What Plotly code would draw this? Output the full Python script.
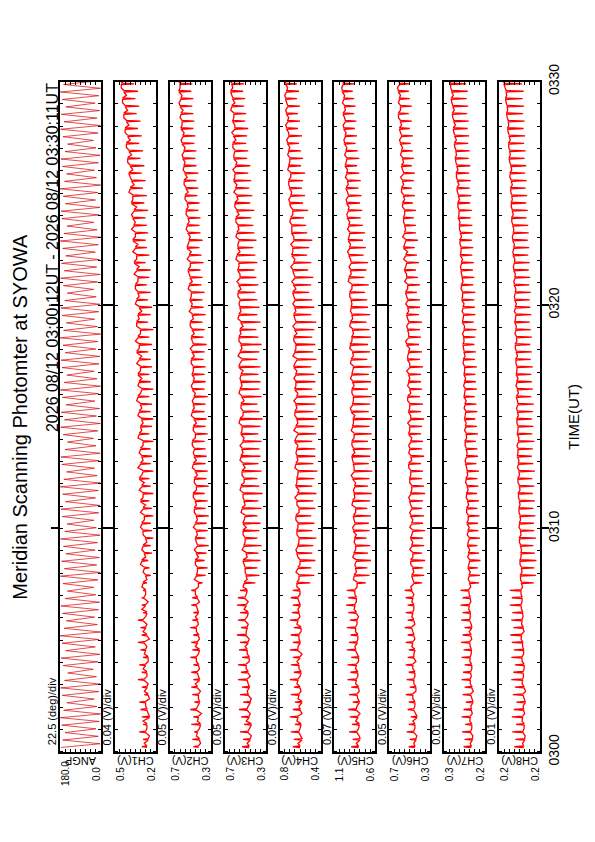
import plotly.graph_objects as go
import pandas as pd

# ---------------- data ----------------
panel_names = ["ANGP", "CH1(V)", "CH2(V)", "CH3(V)", "CH4(V)", "CH5(V)", "CH6(V)", "CH7(V)", "CH8(V)"]
div_labels = ["22.5 (deg)/div", "0.04 (V)/div", "0.05 (V)/div", "0.05 (V)/div", "0.05 (V)/div",
              "0.07 (V)/div", "0.05 (V)/div", "0.01 (V)/div", "0.01 (V)/div"]
vmin = [0.0, 0.20, 0.30, 0.30, 0.40, 0.57, 0.30, 0.21, 0.16]
vdiv = [22.5, 0.04, 0.05, 0.05, 0.05, 0.07, 0.05, 0.01, 0.01]
top_labels = ["180.0", "0.5", "0.7", "0.7", "0.8", "1.1", "0.7", "0.3", "0.2"]
bottom_labels = ["0.0", "0.2", "0.3", "0.3", "0.4", "0.6", "0.3", "0.2", "0.2"]
time_ticks = ["2026-08-12 03:00:00", "2026-08-12 03:10:00", "2026-08-12 03:20:00", "2026-08-12 03:30:00"]
time_tick_labels = ["0300", "0310", "0320", "0330"]
start_label = "2026 08/12 03:00:12UT"
end_label = "2026 08/12 03:30:11UT"

angp = [176,4,168,12,158,22,172,8,178,2,164,18,150,30,170,10,177,3,160,20,
        146,34,166,14,175,5,155,25,171,9,179,1,162,16,152,28,169,11,176,6,
        157,23,148,32,167,13,178,3,161,19,173,7,154,26,165,15,177,4,159,21,
        149,31,170,10,175,5,156,24,168,12,179,2,163,17,151,29,172,8,176,4,
        158,22,147,33,166,14,177,3,160,20,174,6,153,27,169,11,178,2,162,18,
        150,30,171,9,175,5,157,23,167,13,179,1,164,16,152,28,170,10,176,4,
        159,21,148,32,165,15,177,3,161,19,173,7,155,25,168,12,178,2,163,17,
        149,31,172,8,175,5,156,24,166,14,179,1,160,20,151,29,169,11,176,4,
        158,22,147,33,167,13,177,3,162,18,174,6,154,26,170,10,178,2,164,16]

ch1_base = [0.27,0.26,0.28,0.27,0.25,0.27,0.28,0.26,0.27,0.29,
            0.27,0.28,0.26,0.28,0.29,0.27,0.28,0.30,0.27,0.28,
            0.29,0.28,0.30,0.28,0.29,0.31,0.29,0.30,0.28,0.30,
            0.31,0.29,0.30,0.32,0.30,0.31,0.33,0.30,0.32,0.31,
            0.32,0.30,0.33,0.32,0.31,0.33,0.32,0.34,0.31,0.33,
            0.34,0.32,0.33,0.35,0.33,0.34,0.32,0.35,0.34,0.33,
            0.35,0.34,0.36,0.34,0.35,0.37,0.35,0.36,0.38,0.36,
            0.37,0.38,0.37,0.39,0.38,0.40,0.39,0.41,0.40,0.42,
            0.41,0.43,0.42,0.44,0.43,0.45,0.44,0.46,0.45,0.47]
ch1_mid = [0.29,0.25,0.27,0.30,0.26,0.28,0.25,0.29,0.26,0.27,
           0.30,0.26,0.29,0.27,0.25,0.30,0.27,0.28,0.31,0.26,
           0.28,0.31,0.27,0.30,0.32,0.28,0.31,0.27,0.30,0.32,
           0.29,0.32,0.28,0.30,0.33,0.29,0.31,0.34,0.30,0.33,
           0.30,0.34,0.31,0.30,0.34,0.31,0.35,0.32,0.34,0.31,
           0.32,0.35,0.31,0.33,0.36,0.32,0.35,0.33,0.31,0.36,
           0.33,0.36,0.34,0.37,0.33,0.35,0.38,0.34,0.36,0.39,
           0.36,0.39,0.35,0.38,0.41,0.37,0.40,0.38,0.42,0.39,
           0.43,0.40,0.44,0.41,0.45,0.42,0.46,0.43,0.47,0.45]
ch1_spike = [0.31,0.30,0.33,0.30,0.31,0.32,0.33,0.29,0.31,0.34,
             0.31,0.33,0.30,0.32,0.34,0.31,0.32,0.34,0.30,0.31,
             0.31,0.30,0.27,0.24,0.25,0.26,0.23,0.24,0.22,0.23,
             0.24,0.22,0.23,0.25,0.22,0.24,0.25,0.22,0.24,0.23,
             0.24,0.22,0.25,0.23,0.22,0.24,0.23,0.25,0.22,0.24,
             0.25,0.23,0.24,0.26,0.23,0.25,0.22,0.26,0.24,0.23,
             0.26,0.24,0.27,0.25,0.24,0.28,0.25,0.27,0.28,0.26,
             0.27,0.28,0.26,0.29,0.27,0.30,0.28,0.31,0.29,0.32,
             0.30,0.33,0.31,0.34,0.32,0.35,0.33,0.36,0.34,0.37]

ch2_base = [0.42,0.41,0.43,0.40,0.42,0.44,0.41,0.42,0.43,0.41,
            0.43,0.42,0.44,0.41,0.43,0.42,0.44,0.43,0.42,0.44,
            0.43,0.45,0.42,0.44,0.43,0.45,0.44,0.43,0.45,0.44,
            0.45,0.44,0.46,0.45,0.47,0.44,0.46,0.45,0.47,0.46,
            0.46,0.48,0.45,0.47,0.46,0.48,0.47,0.46,0.48,0.47,
            0.48,0.47,0.49,0.48,0.47,0.49,0.48,0.50,0.48,0.49,
            0.50,0.49,0.51,0.50,0.52,0.50,0.51,0.53,0.51,0.52,
            0.53,0.52,0.54,0.53,0.55,0.54,0.56,0.55,0.56,0.57,
            0.56,0.58,0.57,0.59,0.58,0.59,0.60,0.59,0.61,0.60]
ch2_mid = [0.40,0.44,0.41,0.43,0.39,0.43,0.42,0.40,0.45,0.42,
           0.41,0.44,0.42,0.45,0.41,0.44,0.42,0.45,0.43,0.41,
           0.45,0.42,0.46,0.43,0.45,0.42,0.46,0.44,0.43,0.47,
           0.43,0.46,0.44,0.47,0.44,0.46,0.43,0.48,0.44,0.47,
           0.48,0.45,0.47,0.44,0.49,0.46,0.48,0.45,0.49,0.46,
           0.47,0.49,0.46,0.50,0.48,0.46,0.50,0.47,0.51,0.48,
           0.49,0.52,0.48,0.51,0.50,0.53,0.49,0.52,0.50,0.54,
           0.51,0.54,0.52,0.55,0.52,0.56,0.53,0.57,0.55,0.58,
           0.55,0.59,0.56,0.58,0.60,0.57,0.61,0.58,0.60,0.62]
ch2_spike = [0.47,0.48,0.46,0.49,0.47,0.50,0.46,0.48,0.49,0.47,
             0.49,0.47,0.50,0.48,0.49,0.47,0.50,0.48,0.47,0.49,
             0.48,0.49,0.38,0.35,0.33,0.36,0.34,0.32,0.35,0.33,
             0.34,0.32,0.35,0.33,0.36,0.32,0.34,0.33,0.35,0.34,
             0.35,0.36,0.33,0.35,0.34,0.36,0.35,0.33,0.36,0.35,
             0.36,0.35,0.37,0.36,0.34,0.37,0.36,0.38,0.35,0.37,
             0.38,0.36,0.39,0.38,0.40,0.37,0.39,0.41,0.38,0.40,
             0.41,0.40,0.42,0.41,0.43,0.42,0.44,0.42,0.44,0.45,
             0.44,0.46,0.45,0.47,0.46,0.47,0.48,0.47,0.49,0.48]

ch3_base = [0.46,0.45,0.47,0.44,0.46,0.48,0.45,0.47,0.46,0.48,
            0.47,0.49,0.46,0.48,0.47,0.49,0.48,0.50,0.47,0.49,
            0.50,0.48,0.51,0.49,0.50,0.52,0.49,0.51,0.50,0.52,
            0.52,0.50,0.53,0.51,0.52,0.54,0.51,0.53,0.52,0.54,
            0.53,0.52,0.54,0.53,0.55,0.52,0.54,0.53,0.55,0.54,
            0.54,0.56,0.53,0.55,0.54,0.56,0.55,0.54,0.56,0.55,
            0.55,0.57,0.56,0.55,0.57,0.56,0.58,0.57,0.56,0.58,
            0.57,0.59,0.58,0.60,0.58,0.59,0.61,0.60,0.59,0.61,
            0.60,0.62,0.61,0.60,0.62,0.61,0.63,0.62,0.64,0.63]
ch3_mid = [0.48,0.44,0.46,0.49,0.45,0.47,0.44,0.48,0.47,0.45,
           0.49,0.46,0.48,0.50,0.46,0.49,0.47,0.48,0.51,0.47,
           0.49,0.52,0.48,0.50,0.51,0.48,0.53,0.50,0.52,0.49,
           0.51,0.54,0.50,0.52,0.55,0.51,0.53,0.50,0.55,0.52,
           0.55,0.51,0.53,0.56,0.52,0.54,0.51,0.56,0.53,0.55,
           0.52,0.55,0.57,0.53,0.56,0.54,0.52,0.57,0.54,0.56,
           0.57,0.54,0.58,0.55,0.56,0.59,0.55,0.57,0.59,0.56,
           0.59,0.56,0.60,0.57,0.61,0.58,0.60,0.62,0.58,0.61,
           0.62,0.59,0.63,0.60,0.61,0.64,0.60,0.63,0.62,0.65]
ch3_spike = [0.53,0.52,0.55,0.51,0.54,0.56,0.52,0.55,0.53,0.57,
             0.54,0.57,0.53,0.56,0.55,0.58,0.54,0.57,0.55,0.58,
             0.57,0.55,0.40,0.36,0.38,0.35,0.37,0.34,0.38,0.36,
             0.35,0.38,0.34,0.37,0.33,0.36,0.38,0.34,0.37,0.35,
             0.36,0.34,0.37,0.35,0.33,0.36,0.38,0.34,0.36,0.35,
             0.37,0.35,0.38,0.36,0.34,0.37,0.39,0.35,0.38,0.36,
             0.38,0.40,0.37,0.39,0.41,0.38,0.40,0.42,0.39,0.41,
             0.42,0.44,0.41,0.45,0.43,0.46,0.44,0.47,0.45,0.48,
             0.47,0.49,0.48,0.47,0.50,0.49,0.51,0.50,0.52,0.51]

ch4_base = [0.60,0.58,0.61,0.59,0.62,0.60,0.58,0.61,0.60,0.62,
            0.59,0.61,0.60,0.62,0.60,0.61,0.59,0.62,0.61,0.60,
            0.62,0.60,0.63,0.61,0.62,0.60,0.63,0.62,0.61,0.63,
            0.62,0.64,0.61,0.63,0.62,0.64,0.63,0.62,0.64,0.63,
            0.63,0.65,0.62,0.64,0.63,0.65,0.64,0.63,0.65,0.64,
            0.64,0.66,0.63,0.65,0.64,0.66,0.65,0.64,0.66,0.65,
            0.65,0.67,0.66,0.65,0.67,0.66,0.68,0.67,0.66,0.68,
            0.68,0.69,0.67,0.70,0.69,0.70,0.71,0.69,0.71,0.70,
            0.71,0.72,0.71,0.73,0.72,0.73,0.72,0.74,0.73,0.74]
ch4_mid = [0.62,0.59,0.60,0.63,0.58,0.61,0.62,0.59,0.63,0.60,
           0.61,0.63,0.58,0.62,0.61,0.59,0.63,0.60,0.62,0.61,
           0.60,0.63,0.61,0.64,0.60,0.62,0.64,0.61,0.63,0.62,
           0.64,0.61,0.63,0.65,0.61,0.63,0.62,0.65,0.62,0.64,
           0.62,0.64,0.66,0.62,0.65,0.63,0.66,0.62,0.64,0.66,
           0.63,0.65,0.67,0.64,0.66,0.63,0.67,0.65,0.64,0.67,
           0.66,0.64,0.68,0.66,0.69,0.65,0.67,0.69,0.66,0.68,
           0.70,0.67,0.69,0.71,0.68,0.71,0.69,0.72,0.70,0.72,
           0.70,0.73,0.71,0.74,0.71,0.74,0.73,0.75,0.72,0.75]
ch4_spike = [0.67,0.66,0.69,0.65,0.70,0.67,0.65,0.69,0.66,0.70,
             0.66,0.69,0.67,0.70,0.67,0.69,0.66,0.70,0.68,0.67,
             0.69,0.67,0.50,0.46,0.49,0.45,0.48,0.47,0.44,0.48,
             0.46,0.49,0.45,0.47,0.44,0.48,0.46,0.43,0.47,0.45,
             0.45,0.48,0.44,0.46,0.43,0.47,0.45,0.44,0.48,0.45,
             0.46,0.49,0.44,0.47,0.45,0.48,0.46,0.44,0.49,0.46,
             0.48,0.51,0.49,0.47,0.52,0.49,0.53,0.51,0.48,0.53,
             0.54,0.56,0.52,0.57,0.55,0.58,0.57,0.55,0.59,0.57,
             0.59,0.61,0.58,0.62,0.60,0.62,0.60,0.63,0.61,0.63]

ch5_base = [0.80,0.78,0.82,0.79,0.81,0.83,0.79,0.82,0.80,0.83,
            0.81,0.83,0.80,0.84,0.82,0.81,0.84,0.82,0.83,0.85,
            0.83,0.85,0.82,0.86,0.84,0.83,0.86,0.84,0.85,0.87,
            0.85,0.87,0.84,0.88,0.86,0.85,0.88,0.86,0.87,0.89,
            0.87,0.89,0.86,0.88,0.87,0.90,0.88,0.87,0.89,0.88,
            0.89,0.87,0.90,0.88,0.91,0.89,0.88,0.91,0.89,0.90,
            0.90,0.92,0.89,0.93,0.91,0.90,0.93,0.92,0.94,0.92,
            0.93,0.95,0.94,0.96,0.94,0.97,0.95,0.96,0.98,0.96,
            0.97,0.99,0.98,1.00,0.98,1.01,0.99,1.00,1.02,1.01]
ch5_mid = [0.83,0.79,0.80,0.84,0.78,0.82,0.81,0.79,0.84,0.81,
           0.84,0.80,0.82,0.85,0.81,0.84,0.82,0.80,0.86,0.83,
           0.85,0.82,0.87,0.83,0.85,0.88,0.84,0.86,0.83,0.88,
           0.86,0.84,0.89,0.85,0.87,0.84,0.90,0.86,0.88,0.85,
           0.89,0.86,0.90,0.87,0.85,0.91,0.87,0.89,0.86,0.91,
           0.88,0.91,0.87,0.92,0.89,0.87,0.92,0.88,0.91,0.89,
           0.92,0.89,0.94,0.90,0.93,0.91,0.95,0.91,0.93,0.95,
           0.92,0.96,0.93,0.97,0.95,0.94,0.98,0.95,0.97,0.99,
           0.96,1.00,0.97,1.01,0.99,0.98,1.02,0.99,1.03,1.00]
ch5_spike = [0.90,0.88,0.93,0.89,0.92,0.94,0.88,0.93,0.90,0.95,
             0.91,0.95,0.90,0.96,0.93,0.91,0.96,0.92,0.94,0.97,
             0.94,0.96,0.70,0.65,0.68,0.63,0.67,0.64,0.69,0.65,
             0.66,0.63,0.68,0.64,0.62,0.67,0.65,0.61,0.66,0.64,
             0.63,0.67,0.62,0.65,0.61,0.66,0.64,0.62,0.67,0.63,
             0.66,0.62,0.68,0.64,0.67,0.63,0.65,0.69,0.64,0.67,
             0.68,0.71,0.66,0.72,0.69,0.67,0.73,0.70,0.74,0.71,
             0.74,0.77,0.75,0.78,0.76,0.80,0.77,0.79,0.82,0.79,
             0.81,0.84,0.82,0.85,0.83,0.86,0.84,0.86,0.88,0.86]

ch6_base = [0.45,0.44,0.46,0.45,0.43,0.46,0.45,0.47,0.44,0.46,
            0.45,0.47,0.46,0.45,0.47,0.46,0.48,0.46,0.47,0.46,
            0.47,0.48,0.46,0.48,0.47,0.49,0.47,0.48,0.49,0.47,
            0.48,0.49,0.48,0.50,0.49,0.48,0.50,0.49,0.51,0.49,
            0.50,0.49,0.51,0.50,0.49,0.51,0.50,0.52,0.50,0.51,
            0.51,0.50,0.52,0.51,0.53,0.51,0.52,0.51,0.53,0.52,
            0.52,0.54,0.52,0.53,0.55,0.53,0.54,0.56,0.54,0.55,
            0.55,0.56,0.55,0.57,0.56,0.58,0.57,0.56,0.58,0.57,
            0.58,0.59,0.58,0.60,0.59,0.61,0.59,0.60,0.61,0.60]
ch6_mid = [0.46,0.43,0.45,0.47,0.44,0.45,0.47,0.44,0.46,0.45,
           0.47,0.44,0.46,0.48,0.45,0.47,0.45,0.48,0.46,0.48,
           0.46,0.49,0.47,0.46,0.49,0.47,0.50,0.47,0.48,0.50,
           0.47,0.50,0.49,0.51,0.48,0.50,0.49,0.51,0.48,0.51,
           0.51,0.48,0.50,0.52,0.49,0.50,0.52,0.49,0.52,0.50,
           0.53,0.50,0.52,0.50,0.54,0.51,0.53,0.52,0.51,0.54,
           0.53,0.52,0.55,0.53,0.54,0.56,0.52,0.55,0.57,0.54,
           0.56,0.55,0.57,0.55,0.58,0.56,0.59,0.57,0.56,0.59,
           0.57,0.60,0.59,0.58,0.61,0.59,0.61,0.59,0.62,0.61]
ch6_spike = [0.51,0.50,0.53,0.51,0.49,0.52,0.51,0.54,0.50,0.53,
             0.51,0.54,0.52,0.51,0.54,0.52,0.55,0.52,0.54,0.52,
             0.54,0.55,0.38,0.36,0.37,0.35,0.38,0.36,0.37,0.35,
             0.37,0.36,0.38,0.37,0.35,0.36,0.38,0.37,0.39,0.36,
             0.38,0.37,0.39,0.38,0.36,0.39,0.37,0.40,0.38,0.39,
             0.39,0.37,0.40,0.38,0.41,0.39,0.40,0.38,0.41,0.40,
             0.40,0.43,0.40,0.42,0.44,0.41,0.43,0.45,0.42,0.44,
             0.44,0.46,0.44,0.47,0.45,0.48,0.46,0.45,0.48,0.46,
             0.47,0.49,0.47,0.50,0.48,0.51,0.48,0.50,0.51,0.50]

ch7_base = [0.237,0.235,0.238,0.236,0.239,0.237,0.234,0.238,0.236,0.239,
            0.238,0.236,0.239,0.237,0.240,0.238,0.236,0.240,0.239,0.241,
            0.239,0.242,0.240,0.241,0.243,0.240,0.242,0.244,0.241,0.243,
            0.245,0.243,0.246,0.244,0.246,0.245,0.247,0.245,0.248,0.246,
            0.247,0.249,0.247,0.248,0.250,0.248,0.249,0.251,0.249,0.250,
            0.251,0.250,0.252,0.251,0.253,0.252,0.251,0.254,0.252,0.253,
            0.255,0.254,0.256,0.255,0.257,0.256,0.258,0.257,0.259,0.258,
            0.260,0.262,0.261,0.263,0.262,0.265,0.264,0.266,0.265,0.268,
            0.267,0.270,0.269,0.272,0.271,0.274,0.273,0.276,0.275,0.278]
ch7_mid = [0.239,0.234,0.236,0.240,0.235,0.238,0.236,0.233,0.239,0.237,
           0.236,0.240,0.237,0.239,0.236,0.241,0.237,0.239,0.242,0.238,
           0.241,0.238,0.243,0.239,0.242,0.244,0.240,0.243,0.245,0.241,
           0.243,0.246,0.242,0.247,0.243,0.248,0.244,0.246,0.249,0.245,
           0.249,0.246,0.250,0.247,0.249,0.251,0.247,0.250,0.252,0.248,
           0.250,0.253,0.249,0.252,0.251,0.254,0.250,0.253,0.255,0.251,
           0.254,0.257,0.253,0.256,0.258,0.254,0.257,0.259,0.256,0.260,
           0.259,0.261,0.263,0.260,0.264,0.261,0.266,0.263,0.267,0.266,
           0.269,0.266,0.271,0.268,0.273,0.270,0.275,0.272,0.277,0.276]
ch7_spike = [0.252,0.250,0.255,0.249,0.256,0.252,0.248,0.254,0.250,0.256,
             0.253,0.250,0.256,0.252,0.257,0.254,0.250,0.257,0.254,0.258,
             0.254,0.258,0.222,0.220,0.224,0.219,0.222,0.225,0.220,0.223,
             0.224,0.221,0.225,0.222,0.226,0.223,0.225,0.222,0.227,0.224,
             0.225,0.228,0.224,0.226,0.229,0.225,0.227,0.230,0.226,0.228,
             0.229,0.226,0.230,0.228,0.231,0.229,0.227,0.232,0.229,0.230,
             0.231,0.229,0.233,0.231,0.234,0.232,0.235,0.233,0.236,0.234,
             0.235,0.238,0.236,0.239,0.237,0.240,0.238,0.241,0.239,0.242,
             0.240,0.243,0.241,0.244,0.242,0.245,0.243,0.246,0.244,0.247]

ch8_base = [0.192,0.190,0.193,0.191,0.194,0.192,0.189,0.193,0.191,0.194,
            0.193,0.191,0.195,0.192,0.194,0.196,0.193,0.195,0.194,0.197,
            0.195,0.197,0.196,0.198,0.196,0.199,0.197,0.198,0.200,0.198,
            0.200,0.199,0.201,0.200,0.202,0.200,0.203,0.201,0.202,0.204,
            0.203,0.202,0.204,0.203,0.205,0.204,0.203,0.206,0.204,0.205,
            0.206,0.205,0.207,0.206,0.208,0.206,0.207,0.209,0.207,0.208,
            0.209,0.208,0.210,0.209,0.211,0.210,0.212,0.211,0.213,0.212,
            0.213,0.215,0.214,0.216,0.215,0.217,0.216,0.218,0.217,0.220,
            0.219,0.221,0.220,0.223,0.222,0.225,0.224,0.227,0.226,0.230]
ch8_mid = [0.194,0.189,0.191,0.195,0.190,0.193,0.191,0.188,0.195,0.192,
           0.191,0.195,0.192,0.194,0.197,0.191,0.196,0.193,0.196,0.195,
           0.197,0.194,0.198,0.195,0.199,0.197,0.196,0.200,0.197,0.201,
           0.198,0.201,0.199,0.202,0.199,0.203,0.200,0.204,0.201,0.203,
           0.205,0.201,0.203,0.205,0.202,0.206,0.204,0.202,0.207,0.203,
           0.205,0.207,0.204,0.208,0.205,0.209,0.206,0.208,0.210,0.206,
           0.210,0.207,0.211,0.208,0.212,0.209,0.213,0.210,0.214,0.211,
           0.215,0.212,0.216,0.214,0.217,0.214,0.219,0.215,0.219,0.218,
           0.221,0.218,0.222,0.221,0.224,0.223,0.226,0.225,0.228,0.231]
ch8_spike = [0.210,0.208,0.214,0.207,0.215,0.211,0.206,0.213,0.209,0.216,
             0.212,0.209,0.216,0.211,0.215,0.218,0.212,0.216,0.214,0.219,
             0.215,0.219,0.172,0.168,0.171,0.167,0.170,0.173,0.168,0.171,
             0.172,0.169,0.173,0.170,0.174,0.171,0.175,0.170,0.173,0.176,
             0.174,0.171,0.175,0.173,0.176,0.174,0.172,0.177,0.174,0.176,
             0.177,0.174,0.178,0.176,0.179,0.176,0.178,0.180,0.177,0.179,
             0.180,0.178,0.181,0.179,0.182,0.180,0.183,0.181,0.184,0.182,
             0.183,0.186,0.184,0.187,0.185,0.188,0.186,0.189,0.187,0.190,
             0.188,0.191,0.189,0.192,0.190,0.193,0.191,0.194,0.192,0.195]

channel_base = [ch1_base, ch2_base, ch3_base, ch4_base, ch5_base, ch6_base, ch7_base, ch8_base]
channel_mid = [ch1_mid, ch2_mid, ch3_mid, ch4_mid, ch5_mid, ch6_mid, ch7_mid, ch8_mid]
channel_spike = [ch1_spike, ch2_spike, ch3_spike, ch4_spike, ch5_spike, ch6_spike, ch7_spike, ch8_spike]

# ---------------- geometry (page pixels) ----------------
W, H = 595, 842
P_LEFT0, P_PITCH, P_W = 60.0, 54.875, 41.0
P_TOP, P_BOT = 66.0, 762.0
FONT = "Liberation Sans, Arial, sans-serif"
RED = "#ff0000"

def px(x):
    return x / W

def py(y):
    return 1 - y / H

t0 = pd.Timestamp("2026-08-12 03:00:12")
scan_times = [t0 + pd.Timedelta(seconds=20 * i) for i in range(len(ch1_base))]
angp_times = [t0 + pd.Timedelta(seconds=10 * i) for i in range(len(angp))]

fig = go.Figure()

fig.add_trace(go.Scatter(x=angp, y=angp_times, mode="lines",
                         line=dict(color="#d80000", width=0.7),
                         xaxis="x", yaxis="y", hoverinfo="skip"))

for k in range(8):
    xs, ys = [], []
    for i, t in enumerate(scan_times):
        xs += [channel_base[k][i], channel_spike[k][i], channel_base[k][i], channel_mid[k][i]]
        ys += [t, t + pd.Timedelta(seconds=2), t + pd.Timedelta(seconds=4), t + pd.Timedelta(seconds=11)]
    fig.add_trace(go.Scatter(x=xs, y=ys, mode="lines",
                             line=dict(color=RED, width=1.3),
                             xaxis=f"x{k+2}", yaxis=f"y{k+2}", hoverinfo="skip"))

fig.add_trace(go.Scatter(x=[], y=[], xaxis="x9", yaxis="y10", hoverinfo="skip", showlegend=False))

layout = dict(width=W, height=H, autosize=False, showlegend=False,
              margin=dict(l=0, r=0, t=0, b=0),
              paper_bgcolor="white", plot_bgcolor="white",
              font=dict(family=FONT, color="black"))

annotations = []
for k in range(9):
    l = P_LEFT0 + k * P_PITCH
    lo = vmin[k]
    hi = vmin[k] + 8 * vdiv[k]
    xname = "xaxis" if k == 0 else f"xaxis{k+1}"
    yname = "yaxis" if k == 0 else f"yaxis{k+1}"
    xid = "x" if k == 0 else f"x{k+1}"
    yid = "y" if k == 0 else f"y{k+1}"
    layout[xname] = dict(domain=[px(l), px(l + P_W)], range=[hi, lo], anchor=yid,
                         showline=True, linewidth=2, linecolor="black", mirror="ticks",
                         ticks="inside", ticklen=3, tickwidth=1, tickcolor="black",
                         tickmode="array", tickvals=[lo + j * vdiv[k] for j in range(1, 8)],
                         showticklabels=False, showgrid=False, zeroline=False, fixedrange=True)
    layout[yname] = dict(domain=[py(P_BOT), py(P_TOP)], anchor=xid, type="date",
                         range=[time_ticks[0], time_ticks[-1]],
                         showline=True, linewidth=2, linecolor="black", mirror="ticks",
                         ticks="outside", ticklen=7, tickwidth=2, tickcolor="black",
                         tickmode="array", tickvals=time_ticks[1:3],
                         minor=dict(ticks="inside", ticklen=3, tickwidth=1, tickcolor="black",
                                    tickmode="linear", tick0=time_ticks[0], dtick=60000),
                         showticklabels=False, showgrid=False, zeroline=False, fixedrange=True)
    annotations.append(dict(text=top_labels[k], x=px(l + 5), y=py(785), xref="paper", yref="paper",
                            textangle=-90, showarrow=False, xanchor="center", yanchor="middle",
                            font=dict(size=10, family=FONT)))
    annotations.append(dict(text=bottom_labels[k], x=px(l + P_W - 5), y=py(785), xref="paper", yref="paper",
                            textangle=-90, showarrow=False, xanchor="center", yanchor="middle",
                            font=dict(size=10, family=FONT)))
    annotations.append(dict(text=panel_names[k], x=px(l + P_W / 2), y=py(772), xref="paper", yref="paper",
                            textangle=180, showarrow=False, xanchor="center", yanchor="middle",
                            font=dict(size=11, family=FONT)))
    annotations.append(dict(text=div_labels[k], x=px(l - 8), y=py(757), xref="paper", yref="paper",
                            textangle=-90, showarrow=False, xanchor="center", yanchor="bottom",
                            font=dict(size=11, family=FONT)))

layout["yaxis10"] = dict(domain=[py(P_BOT), py(P_TOP)], overlaying="y9", anchor="x9", side="right",
                         type="date", range=[time_ticks[0], time_ticks[-1]],
                         tickmode="array", tickvals=time_ticks, ticktext=time_tick_labels,
                         tickangle=-90, ticks="", showline=False, showgrid=False, zeroline=False,
                         ticklabelstandoff=4, tickfont=dict(size=14, family=FONT), fixedrange=True)

annotations.append(dict(text="TIME(UT)", x=px(574), y=py(414), xref="paper", yref="paper",
                        textangle=-90, showarrow=False, xanchor="center", yanchor="middle",
                        font=dict(size=15, family=FONT)))
annotations.append(dict(text="Meridian Scanning Photomter at SYOWA", x=px(20), y=py(414),
                        xref="paper", yref="paper", textangle=-90, showarrow=False,
                        xanchor="center", yanchor="middle", font=dict(size=20, family=FONT)))
annotations.append(dict(text=f"{start_label} - {end_label}", x=px(52), y=py(66),
                        xref="paper", yref="paper", textangle=-90, showarrow=False,
                        xanchor="center", yanchor="top", font=dict(size=16, family=FONT)))
layout["annotations"] = annotations

fig.update_layout(**layout)
fig.write_html("out.html", config={"displayModeBar": False},
               post_script="document.body.style.margin='0';")
